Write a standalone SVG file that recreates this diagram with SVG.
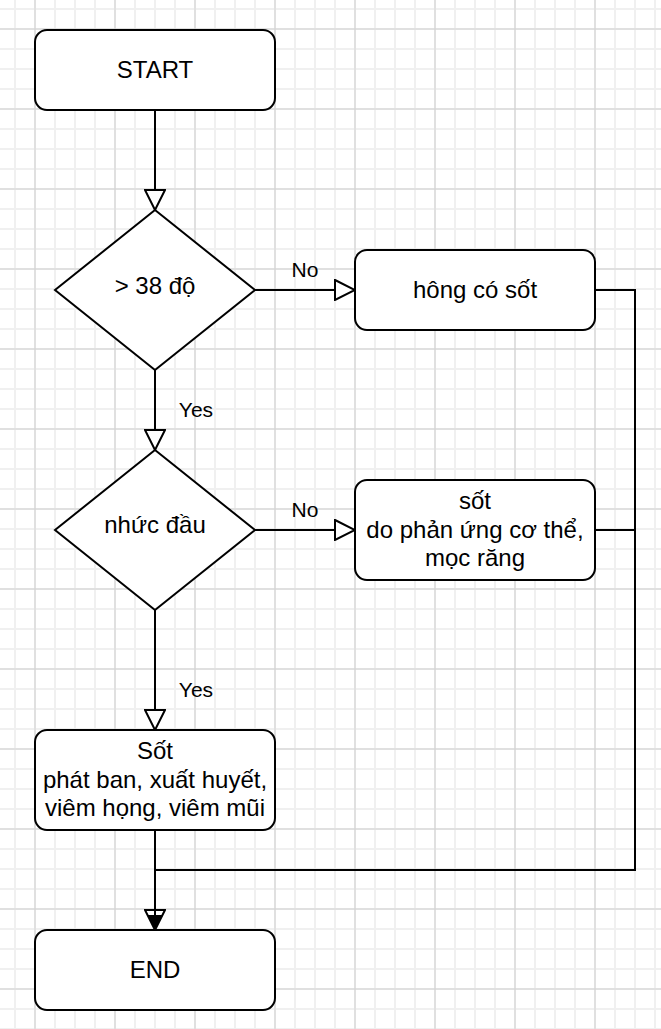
<svg xmlns="http://www.w3.org/2000/svg" width="661" height="1029" viewBox="0 0 661 1029">
<defs>
<pattern id="minor" width="20" height="20" patternUnits="userSpaceOnUse" x="14" y="8">
<path d="M1 0V20M0 1H20" stroke="#f0f0f0" stroke-width="2" fill="none"/>
</pattern>
<pattern id="major" width="80" height="80" patternUnits="userSpaceOnUse" x="34.5" y="28.5">
<path d="M0.5 0V80M0 0.5H80" stroke="#d0d0d0" stroke-width="1" fill="none"/>
</pattern>
<marker id="open" viewBox="0 0 22 22" refX="21" refY="11" markerWidth="22" markerHeight="22" markerUnits="userSpaceOnUse" orient="auto">
<path d="M1,1 L21,11 L1,21 Z" fill="#ffffff" stroke="#000000" stroke-width="2" stroke-linejoin="miter"/>
</marker>
</defs>
<style>
.box{fill:#ffffff;stroke:#000000;stroke-width:2}
.t{font-family:"Liberation Sans",Arial,sans-serif;font-size:24px;fill:#000000;text-anchor:middle}
.lbl{font-family:"Liberation Sans",Arial,sans-serif;font-size:21px;fill:#000000;text-anchor:middle}
.edge{fill:none;stroke:#000000;stroke-width:2}
</style>
<rect width="661" height="1029" fill="#ffffff"/>
<rect width="661" height="1029" fill="url(#minor)"/>
<rect width="661" height="1029" fill="url(#major)"/>

<g id="start">
<rect class="box" x="35" y="30" width="240" height="80" rx="12"/>
<text class="t" x="155" y="78">START</text>
</g>
<g id="decision1">
<path class="box" d="M155,210 L255,290 L155,370 L55,290 Z"/>
<text class="t" x="155" y="294">&gt; 38 độ</text>
</g>
<g id="no-fever">
<rect class="box" x="355" y="250" width="240" height="80" rx="12"/>
<text class="t" x="475" y="298">hông có sốt</text>
</g>
<g id="decision2">
<path class="box" d="M155,450 L255,530 L155,610 L55,530 Z"/>
<text class="t" x="155" y="533">nhức đầu</text>
</g>
<g id="fever-reaction">
<rect class="box" x="355" y="480" width="240" height="100" rx="12"/>
<text class="t" x="475" y="509">sốt</text>
<text class="t" x="475" y="538">do phản ứng cơ thể,</text>
<text class="t" x="475" y="566">mọc răng</text>
</g>
<g id="fever-symptoms">
<rect class="box" x="35" y="730" width="240" height="100" rx="12"/>
<text class="t" x="155" y="759">Sốt</text>
<text class="t" x="155" y="788">phát ban, xuất huyết,</text>
<text class="t" x="155" y="816">viêm họng, viêm mũi</text>
</g>
<g id="end">
<rect class="box" x="35" y="930" width="240" height="80" rx="12"/>
<text class="t" x="155" y="978">END</text>
</g>

<g id="connectors">
<path class="edge" d="M155,110 V210" marker-end="url(#open)"/>
<path class="edge" d="M255,290 H355" marker-end="url(#open)"/>
<text class="lbl" x="305" y="277">No</text>
<path class="edge" d="M155,370 V450" marker-end="url(#open)"/>
<text class="lbl" x="196" y="417">Yes</text>
<path class="edge" d="M255,530 H355" marker-end="url(#open)"/>
<text class="lbl" x="305" y="517">No</text>
<path class="edge" d="M155,610 V730" marker-end="url(#open)"/>
<text class="lbl" x="196" y="697">Yes</text>
<path class="edge" d="M595,290 H635 V870 H155 V930"/>
<path class="edge" d="M595,530 H635"/>
<path class="edge" d="M155,830 V930" marker-end="url(#open)"/>
<path d="M147.5,915 L162.5,915 L155,929 Z" fill="#000000"/>
<path class="edge" d="M155,830 V916"/>
</g>
</svg>
